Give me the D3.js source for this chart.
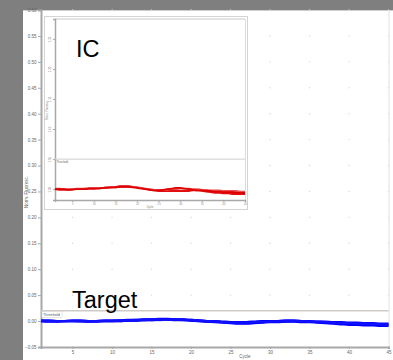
<!DOCTYPE html>
<html>
<head>
<meta charset="utf-8">
<script src="https://cdn.jsdelivr.net/npm/d3@7"></script>
<style>
  html, body { margin: 0; padding: 0; background: #7f7f7f; }
  svg { display: block; }
  text { font-family: "Liberation Sans", Arial, sans-serif; }
</style>
</head>
<body>
<svg id="chart" width="393" height="360"></svg>
<script>
// PCR cycles on the x axis
const cycles = [1,2,3,4,5,6,7,8,9,10,11,12,13,14,15,16,17,18,19,20,21,22,23,24,25,26,27,28,29,30,31,32,33,34,35,36,37,38,39,40,41,42,43,44,45];

// Target channel: normalized fluorescence, one array per replicate
const target1 = [0.000,0.000,0.000,0.000,0.000,0.000,0.000,0.000,0.000,0.000,
                 0.001,0.001,0.002,0.002,0.003,0.003,0.003,0.003,0.003,0.002,
                 0.001,0.000,-0.001,-0.002,-0.003,-0.003,-0.003,-0.002,-0.002,-0.001,
                 -0.001,0.000,0.000,0.000,-0.001,-0.001,-0.002,-0.003,-0.004,-0.004,
                 -0.005,-0.005,-0.006,-0.006,-0.007];
const target2 = [0.000,-0.001,-0.001,0.000,0.000,0.000,-0.001,-0.001,0.000,0.000,
                 0.000,0.001,0.001,0.002,0.002,0.003,0.003,0.002,0.002,0.001,
                 0.000,-0.001,-0.002,-0.003,-0.004,-0.005,-0.005,-0.004,-0.003,-0.002,
                 -0.002,-0.001,-0.001,-0.002,-0.002,-0.003,-0.004,-0.005,-0.006,-0.007,
                 -0.007,-0.008,-0.008,-0.009,-0.009];
const target3 = [0.001,0.001,0.000,0.000,0.001,0.001,0.000,0.000,0.001,0.001,
                 0.001,0.002,0.002,0.003,0.003,0.004,0.004,0.003,0.003,0.002,
                 0.001,0.000,0.000,-0.001,-0.002,-0.002,-0.002,-0.001,0.000,0.000,
                 0.000,0.001,0.001,0.000,0.000,-0.001,-0.001,-0.002,-0.002,-0.003,
                 -0.003,-0.004,-0.004,-0.005,-0.005];
const target4 = [0.000,0.000,0.000,0.000,0.000,-0.001,-0.001,0.000,0.000,0.000,
                 0.000,0.001,0.001,0.002,0.002,0.002,0.003,0.003,0.002,0.001,
                 0.000,-0.001,-0.001,-0.002,-0.003,-0.004,-0.004,-0.003,-0.002,-0.001,
                 -0.001,-0.001,0.000,-0.001,-0.001,-0.002,-0.003,-0.004,-0.004,-0.005,
                 -0.006,-0.006,-0.007,-0.007,-0.008];

// Internal control channel (inset)
const ic1 = [1.000,1.000,1.000,0.999,0.999,1.000,1.000,1.000,1.001,1.001,
             1.001,1.002,1.002,1.003,1.003,1.004,1.004,1.004,1.003,1.002,
             1.001,1.000,0.999,0.998,0.998,0.999,1.000,1.001,1.002,1.002,
             1.001,1.000,0.999,0.998,0.998,0.997,0.997,0.996,0.996,0.995,
             0.995,0.995,0.994,0.994,0.994];
const ic2 = [1.000,0.999,0.999,0.999,1.000,1.000,1.000,1.001,1.001,1.001,
             1.002,1.002,1.003,1.003,1.004,1.005,1.005,1.005,1.004,1.003,
             1.002,1.000,0.999,0.998,0.997,0.997,0.997,0.997,0.997,0.997,
             0.997,0.997,0.998,0.998,0.997,0.996,0.995,0.994,0.994,0.993,
             0.993,0.992,0.992,0.992,0.992];
const ic3 = [1.001,1.001,1.000,1.000,1.000,1.001,1.001,1.001,1.002,1.002,
             1.002,1.002,1.003,1.003,1.003,1.004,1.004,1.004,1.004,1.003,
             1.002,1.001,1.000,0.999,0.999,0.999,0.999,1.000,1.000,1.001,
             1.001,1.001,1.000,1.000,0.999,0.999,0.998,0.998,0.998,0.997,
             0.997,0.997,0.997,0.996,0.996];

// Axis ticks and thresholds
const mainYTicks = [-0.05,0.00,0.05,0.10,0.15,0.20,0.25,0.30,0.35,0.40,0.45,0.50,0.55,0.60];
const xTicks = [5,10,15,20,25,30,35,40,45];
const insetYTicks = [1.00,1.05,1.10,1.15,1.20,1.25];
const mainThreshold = 0.02;
const insetThreshold = 1.05;

const targetSeries = [
  {values: target4, color: "#6a6acc"},
  {values: target2, color: "#0000ff"},
  {values: target3, color: "#0000ff"},
  {values: target1, color: "#1010ff"}
];
const icSeries = [
  {values: ic2, color: "#e01010"},
  {values: ic3, color: "#e85050"},
  {values: ic1, color: "#dd0000"}
];

const svg = d3.select("#chart");
const gridColor = "#d8d8d8";
const axisColor = "#a8a8a8";
const labelColor = "#666";

// White panel
svg.append("rect").attr("x", 23).attr("y", 10).attr("width", 370).attr("height", 350).attr("fill", "#fff");
svg.append("line").attr("x1", 23).attr("x2", 393).attr("y1", 10.5).attr("y2", 10.5)
  .attr("stroke", "#cfcfcf").attr("stroke-width", 1);

// ---------- Main chart (Target) ----------
const x = d3.scaleLinear().domain([1, 45]).range([41, 388.5]);
const y = d3.scaleLinear().domain([-0.05, 0.60]).range([347, 10]);

// faint grid dots at tick intersections
const gridPts = [];
xTicks.forEach(c => mainYTicks.forEach(v => gridPts.push([c, v])));
svg.append("g").selectAll("circle").data(gridPts).join("circle")
  .attr("cx", d => x(d[0])).attr("cy", d => y(d[1])).attr("r", 0.7).attr("fill", gridColor);

// right border
svg.append("line").attr("x1", x(45) + 0.5).attr("x2", x(45) + 0.5).attr("y1", y(0.60)).attr("y2", y(-0.05))
  .attr("stroke", "#e2e2e2").attr("stroke-width", 1);

// y axis
const yAxis = d3.axisLeft(y).tickValues(mainYTicks).tickFormat(d3.format(".2f")).tickSize(3).tickPadding(1.5);
const gy = svg.append("g").attr("transform", `translate(${x(1)},0)`).call(yAxis);
gy.select(".domain").attr("stroke", axisColor).attr("stroke-width", 2);
gy.selectAll(".tick line").attr("stroke", axisColor);
gy.selectAll(".tick text").attr("fill", labelColor).attr("font-size", 4.5);

// x axis
const xAxis = d3.axisBottom(x).tickValues(xTicks).tickFormat(d3.format("d")).tickSize(2).tickPadding(2);
const gx = svg.append("g").attr("transform", `translate(0,${y(-0.05)})`).call(xAxis);
gx.select(".domain").attr("stroke", axisColor).attr("stroke-width", 2);
gx.selectAll(".tick line").attr("stroke", axisColor);
gx.selectAll(".tick text").attr("fill", labelColor).attr("font-size", 4.5);

svg.append("text").attr("x", 245).attr("y", 358).attr("text-anchor", "middle")
  .attr("font-size", 4.5).attr("fill", labelColor).text("Cycle");
svg.append("text").attr("transform", `translate(28,192) rotate(-90)`).attr("text-anchor", "middle")
  .attr("font-size", 4.5).attr("fill", labelColor).text("Norm. Fluoresc.");

// threshold
svg.append("line").attr("x1", x(1)).attr("x2", x(45)).attr("y1", y(mainThreshold)).attr("y2", y(mainThreshold))
  .attr("stroke", "#cfcbc6").attr("stroke-width", 1.6);
svg.append("rect").attr("x", x(1) + 1).attr("y", y(mainThreshold) + 1).attr("width", 20).attr("height", 6)
  .attr("fill", "#fff").attr("stroke", "#d0d0d0").attr("stroke-width", 0.5);
svg.append("text").attr("x", x(1) + 2).attr("y", y(mainThreshold) + 5.5)
  .attr("font-size", 3.8).attr("fill", "#555").text("Threshold");

// target curves
const line = d3.line().x((d, i) => x(cycles[i])).y(d => y(d)).curve(d3.curveMonotoneX);
svg.append("g").selectAll("path").data(targetSeries).join("path")
  .attr("d", d => line(d.values)).attr("fill", "none")
  .attr("stroke", d => d.color).attr("stroke-width", 2.4);

svg.append("text").attr("x", 72).attr("y", 308).attr("font-size", 23.5).attr("fill", "#000").text("Target");

// ---------- Inset (IC) ----------
const inset = svg.append("g");
inset.append("rect").attr("x", 44.5).attr("y", 16.5).attr("width", 203).attr("height", 193)
  .attr("fill", "#fff").attr("stroke", "#d4d4d4").attr("stroke-width", 1);

const ix = d3.scaleLinear().domain([1, 45]).range([55, 245]);
const iy = d3.scaleLinear().domain([0.982, 1.283]).range([200, 19]);

// plot frame
inset.append("line").attr("x1", ix(45) + 0.5).attr("x2", ix(45) + 0.5).attr("y1", iy(1.283)).attr("y2", iy(0.982))
  .attr("stroke", "#dcdcdc").attr("stroke-width", 1);
inset.append("line").attr("x1", ix(1)).attr("x2", ix(45)).attr("y1", iy(1.283)).attr("y2", iy(1.283))
  .attr("stroke", "#c8c8c8").attr("stroke-width", 1);

const iyAxis = d3.axisLeft(iy).tickValues(insetYTicks).tickFormat(d3.format(".2f")).tickSize(2).tickPadding(1);
const giy = inset.append("g").attr("transform", `translate(${ix(1)},0)`).call(iyAxis);
giy.select(".domain").attr("stroke", axisColor).attr("stroke-width", 1.5);
giy.selectAll(".tick line").attr("stroke", axisColor);
giy.selectAll(".tick text").attr("fill", "#888").attr("font-size", 2.8)
  .attr("transform", "rotate(-90)").attr("x", 0).attr("y", -4).attr("dy", 0).attr("text-anchor", "middle");

const ixAxis = d3.axisBottom(ix).tickValues(xTicks).tickFormat(d3.format("d")).tickSize(2).tickPadding(1.5);
const gix = inset.append("g").attr("transform", `translate(0,${iy(0.982)})`).call(ixAxis);
gix.select(".domain").attr("stroke", axisColor).attr("stroke-width", 1.5);
gix.selectAll(".tick line").attr("stroke", axisColor);
gix.selectAll(".tick text").attr("fill", "#888").attr("font-size", 2.8);

inset.append("text").attr("x", 150).attr("y", 208).attr("text-anchor", "middle")
  .attr("font-size", 2.8).attr("fill", "#777").text("Cycle");
inset.append("text").attr("transform", `translate(47.5,110) rotate(-90)`).attr("text-anchor", "middle")
  .attr("font-size", 2.8).attr("fill", "#888").text("Norm. Fluoresc.");

inset.append("line").attr("x1", ix(1)).attr("x2", ix(45)).attr("y1", iy(insetThreshold)).attr("y2", iy(insetThreshold))
  .attr("stroke", "#cfcfcf").attr("stroke-width", 1);
inset.append("text").attr("x", ix(1) + 1.5).attr("y", iy(insetThreshold) + 4)
  .attr("font-size", 2.6).attr("fill", "#666").text("Threshold");

const iline = d3.line().x((d, i) => ix(cycles[i])).y(d => iy(d)).curve(d3.curveMonotoneX);
inset.append("g").selectAll("path").data(icSeries).join("path")
  .attr("d", d => iline(d.values)).attr("fill", "none")
  .attr("stroke", d => d.color).attr("stroke-width", 1.8);

inset.append("text").attr("x", 76).attr("y", 57).attr("font-size", 23.5).attr("fill", "#000").text("IC");
</script>
</body>
</html>
